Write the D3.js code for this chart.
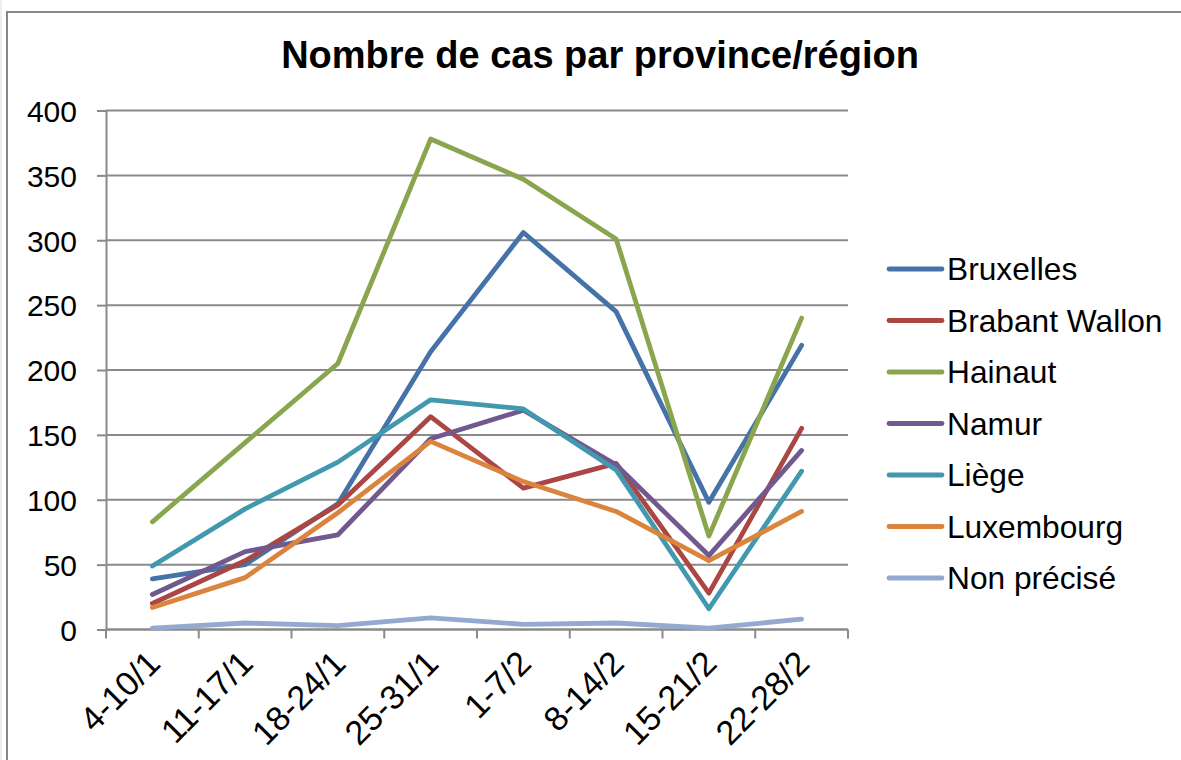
<!DOCTYPE html>
<html><head><meta charset="utf-8">
<script src="https://cdn.jsdelivr.net/npm/d3@7"></script>
<style>
html,body{margin:0;padding:0;background:#fff;}
svg{display:block;font-family:"Liberation Sans",Arial,sans-serif;}
</style></head>
<body>
<svg id="c" width="1181" height="760"></svg>
<script>
const categories = ["4-10/1","11-17/1","18-24/1","25-31/1","1-7/2","8-14/2","15-21/2","22-28/2"];
const seriesNames = ["Bruxelles","Brabant Wallon","Hainaut","Namur","Liège","Luxembourg","Non précisé"];
const bruxelles     = [39, 50, 97, 214, 306, 245, 98, 219];
const brabantWallon = [20, 53, 96, 164, 109, 128, 28, 155];
const hainaut       = [83, 144, 205, 378, 347, 301, 72, 240];
const namur         = [27, 60, 73, 147, 169, 127, 57, 138];
const liege         = [49, 93, 129, 177, 170, 123, 16, 122];
const luxembourg    = [17, 40, 90, 145, 114, 91, 53, 91];
const nonPrecise    = [1, 5, 3, 9, 4, 5, 1, 8];
const yTicks = [0, 50, 100, 150, 200, 250, 300, 350, 400];
const colors = ["#4572A7","#AA4643","#89A54E","#71588F","#4198AF","#DB843D","#93A9CF"];
const seriesValues = [bruxelles, brabantWallon, hainaut, namur, liege, luxembourg, nonPrecise];

(function(){
const svg = d3.select("#c");
// frame
svg.append("rect").attr("x",0).attr("y",0).attr("width",2).attr("height",760).attr("fill","#eaeff5");
svg.append("line").attr("x1",7).attr("x2",7).attr("y1",11).attr("y2",760).attr("stroke","#878787").attr("stroke-width",2);
svg.append("line").attr("x1",6).attr("x2",1181).attr("y1",12).attr("y2",12).attr("stroke","#878787").attr("stroke-width",2);

const pLeft = 106, pRight = 848, pTop = 110.5, pBottom = 629.5;
const x = d3.scaleBand().domain(categories).range([pLeft, pRight]);
const y = d3.scaleLinear().domain([0, 400]).range([pBottom, pTop]);

// title
svg.append("text").attr("x", 600).attr("y", 68).attr("text-anchor","middle")
  .attr("font-size", 38).attr("font-weight","bold").attr("fill","#000")
  .text("Nombre de cas par province/région");

// gridlines
svg.append("g").selectAll("line").data(yTicks).join("line")
  .attr("x1", pLeft).attr("x2", pRight).attr("y1", d=>y(d)).attr("y2", d=>y(d))
  .attr("stroke","#8a8a8a").attr("stroke-width",2);

// y axis
const yAxis = svg.append("g").attr("transform",`translate(${pLeft},0)`)
  .call(d3.axisLeft(y).tickValues(yTicks).tickSize(9).tickPadding(20).tickFormat(d3.format("d")));
yAxis.select(".domain").attr("stroke","#8a8a8a").attr("stroke-width",2);
yAxis.selectAll(".tick line").attr("stroke","#8a8a8a").attr("stroke-width",2);
yAxis.selectAll(".tick text").attr("font-size",30).attr("fill","#000")
  .attr("font-family","Liberation Sans, Arial, sans-serif").attr("dy","0.36em");

// x axis with ticks at band boundaries
const xg = svg.append("g");
xg.append("line").attr("x1",pLeft).attr("x2",pRight).attr("y1",pBottom).attr("y2",pBottom)
  .attr("stroke","#8a8a8a").attr("stroke-width",2);
const bounds = categories.map(c=>x(c)).concat([pRight]);
xg.selectAll("line.t").data(bounds).join("line").attr("class","t")
  .attr("x1",d=>d).attr("x2",d=>d).attr("y1",pBottom).attr("y2",pBottom+9)
  .attr("stroke","#8a8a8a").attr("stroke-width",2);
xg.selectAll("text").data(categories).join("text")
  .attr("transform", d=>`translate(${x(d)+x.bandwidth()/2-7},${pBottom+19}) rotate(-45)`)
  .attr("text-anchor","end").attr("font-size",34).attr("fill","#000").attr("dy","0.7em")
  .text(d=>d);

// lines
const line = d3.line().x((d,i)=>x(categories[i])+x.bandwidth()/2).y(d=>y(d));
svg.append("g").selectAll("path").data(seriesValues).join("path")
  .attr("d", d=>line(d)).attr("fill","none")
  .attr("stroke",(d,i)=>colors[i]).attr("stroke-width",4.8)
  .attr("stroke-linejoin","round").attr("stroke-linecap","round");

// legend
const lg = svg.append("g");
seriesNames.forEach((n,i)=>{
  const ly = 269 + i*51.5;
  lg.append("line").attr("x1",889).attr("x2",942).attr("y1",ly).attr("y2",ly)
    .attr("stroke",colors[i]).attr("stroke-width",4.8).attr("stroke-linecap","round");
  lg.append("text").attr("x",947).attr("y",ly+11).attr("font-size",31.7).attr("fill","#000").text(n);
});
})();
</script>
</body></html>
